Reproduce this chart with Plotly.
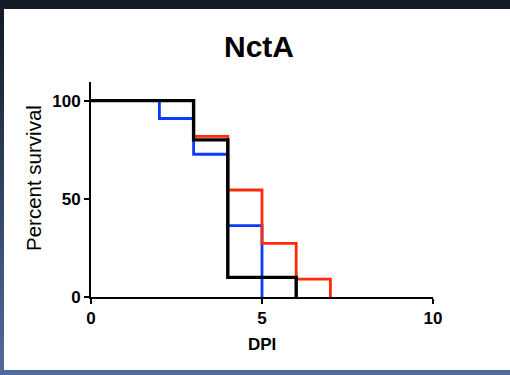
import plotly.graph_objects as go

# Data (Kaplan-Meier steps)
days_blue = [0, 2, 3, 4, 5]
surv_blue = [100, 90.9, 72.7, 36.4, 0]
days_red = [0, 3, 4, 5, 6, 7]
surv_red = [100, 81.8, 54.5, 27.3, 9.1, 0]
days_black = [0, 3, 4, 6]
surv_black = [100, 80, 10, 0]

x_ticks = [0, 5, 10]
y_ticks = [0, 50, 100]

FONT = "Liberation Sans, Arial, sans-serif"

fig = go.Figure()
fig.add_trace(go.Scatter(x=days_blue, y=surv_blue, mode="lines", line=dict(shape="hv", color="#0a3cff", width=2.8), showlegend=False))
fig.add_trace(go.Scatter(x=days_red, y=surv_red, mode="lines", line=dict(shape="hv", color="#ff2a0a", width=2.8), showlegend=False))
fig.add_trace(go.Scatter(x=days_black, y=surv_black, mode="lines", line=dict(shape="hv", color="#000000", width=3.4), showlegend=False))

W, H = 510, 375
L, R, T, B = 91, 77, 82, 78
pw = W - L - R
ph = H - T - B

def px_x(p):
    return (p - L) / pw

def px_y(p):
    return (H - B - p) / ph

shapes = []
# top dark band
shapes.append(dict(type="rect", xref="paper", yref="paper", x0=px_x(-5), x1=px_x(W + 5), y0=px_y(9), y1=px_y(-5), fillcolor="#141a26", line=dict(width=0), layer="below"))
# bottom blue band
shapes.append(dict(type="rect", xref="paper", yref="paper", x0=px_x(-5), x1=px_x(W + 5), y0=px_y(H + 5), y1=px_y(370), fillcolor="#4f6b9d", line=dict(width=0), layer="below"))
# left gradient band
n = 24
top_c = (20, 26, 38)
bot_c = (80, 108, 158)
for i in range(n):
    y0p = 9 + (361) * i / n
    y1p = 9 + (361) * (i + 1) / n
    t = (i + 0.5) / n
    c = tuple(int(top_c[k] + (bot_c[k] - top_c[k]) * t) for k in range(3))
    shapes.append(dict(type="rect", xref="paper", yref="paper", x0=px_x(-5), x1=px_x(4), y0=px_y(y1p + 0.5), y1=px_y(y0p - 0.5), fillcolor="rgb(%d,%d,%d)" % c, line=dict(width=0), layer="below"))

annotations = [
    dict(text="<b>NctA</b>", x=px_x(259), y=px_y(46), xref="paper", yref="paper", showarrow=False, font=dict(family=FONT, size=30, color="black"), xanchor="center", yanchor="middle"),
    dict(text="Percent survival", x=px_x(33), y=px_y(178), xref="paper", yref="paper", showarrow=False, textangle=-90, font=dict(family=FONT, size=20.5, color="black"), xanchor="center", yanchor="middle"),
    dict(text="<b>DPI</b>", x=px_x(262), y=px_y(344), xref="paper", yref="paper", showarrow=False, font=dict(family=FONT, size=17, color="black"), xanchor="center", yanchor="middle"),
]

fig.update_layout(
    width=W, height=H,
    margin=dict(l=L, r=R, t=T, b=B),
    paper_bgcolor="white", plot_bgcolor="white",
    shapes=shapes, annotations=annotations,
    xaxis=dict(range=[0, 10], tickvals=x_ticks, ticktext=[str(v) for v in x_ticks], showgrid=False, zeroline=False,
               showline=True, linecolor="black", linewidth=2, ticks="outside", ticklen=5, tickwidth=2, tickcolor="black",
               tickfont=dict(family=FONT, size=17, color="black", weight="bold")),
    yaxis=dict(range=[0, 109.5], tickvals=y_ticks, ticktext=[str(v) for v in y_ticks], showgrid=False, zeroline=False,
               showline=True, linecolor="black", linewidth=2, ticks="outside", ticklen=5, tickwidth=2, tickcolor="black",
               tickfont=dict(family=FONT, size=17, color="black", weight="bold")),
)

fig.write_html("out.html")
